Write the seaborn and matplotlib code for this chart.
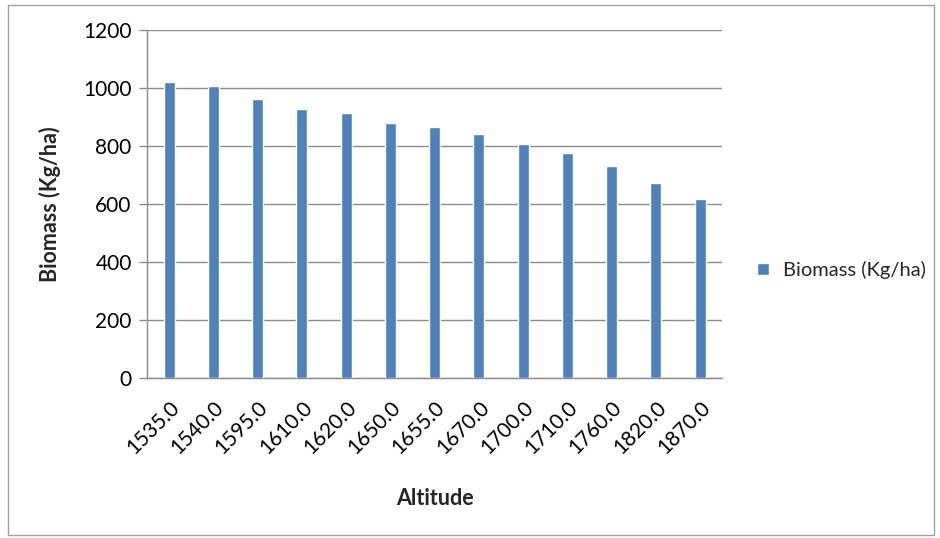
import matplotlib
matplotlib.use("Agg")
import matplotlib.pyplot as plt
from matplotlib.patches import Rectangle
import seaborn as sns
import pandas as pd

altitudes = ["1535.0", "1540.0", "1595.0", "1610.0", "1620.0", "1650.0", "1655.0",
             "1670.0", "1700.0", "1710.0", "1760.0", "1820.0", "1870.0"]
biomass = [1022, 1005, 963, 929, 913, 878, 864, 840, 806, 776, 732, 673, 618]
y_ticks = [0, 200, 400, 600, 800, 1000, 1200]
series_name = "Biomass (Kg/ha)"

df = pd.DataFrame({"Altitude": altitudes, "Biomass": biomass})

sns.set_theme(style="white")
plt.rcParams["font.family"] = ["Lato", "DejaVu Sans"]

fig = plt.figure(figsize=(9.4, 5.38), dpi=100)
ax = fig.add_axes([0.1564, 0.2974, 0.612, 0.647])

sns.barplot(data=df, x="Altitude", y="Biomass", color="#4F81BD", width=0.25,
            label=series_name, saturation=1, ax=ax, zorder=3)

ax.set_ylim(0, 1200)
ax.set_yticks(y_ticks)
ax.set_xlim(-0.5, len(altitudes) - 0.5)
ax.yaxis.grid(True, color="#8c8c8c", linewidth=1.0, zorder=0)
ax.set_axisbelow(True)

for side in ["top", "right"]:
    ax.spines[side].set_visible(False)
for side in ["left", "bottom"]:
    ax.spines[side].set_color("#8c8c8c")
    ax.spines[side].set_linewidth(1.0)

ax.tick_params(axis="y", which="major", left=True, length=6, width=1.0,
               color="#8c8c8c", labelsize=15, pad=5, labelcolor="#000000")
ax.tick_params(axis="x", which="major", bottom=False, labelsize=15, pad=8,
               labelcolor="#000000")
plt.setp(ax.get_xticklabels(), rotation=45, ha="right", rotation_mode="anchor")

ax.set_xlabel("Altitude", fontsize=15.5, fontweight="bold", labelpad=22)
ax.set_ylabel("Biomass (Kg/ha)", fontsize=15.5, fontweight="bold", labelpad=16)

leg = ax.legend(loc="center left", bbox_to_anchor=(1.06, 0.31), frameon=False,
                borderaxespad=0, borderpad=0, fontsize=14.5,
                handlelength=0.6, handleheight=0.6, handletextpad=0.7)

fig.patches.append(Rectangle((0.008, 0.005), 0.986, 0.985, transform=fig.transFigure,
                             fill=False, edgecolor="#a0a0a0", linewidth=1.0))

fig.savefig("out.png", dpi=100, facecolor="white")
